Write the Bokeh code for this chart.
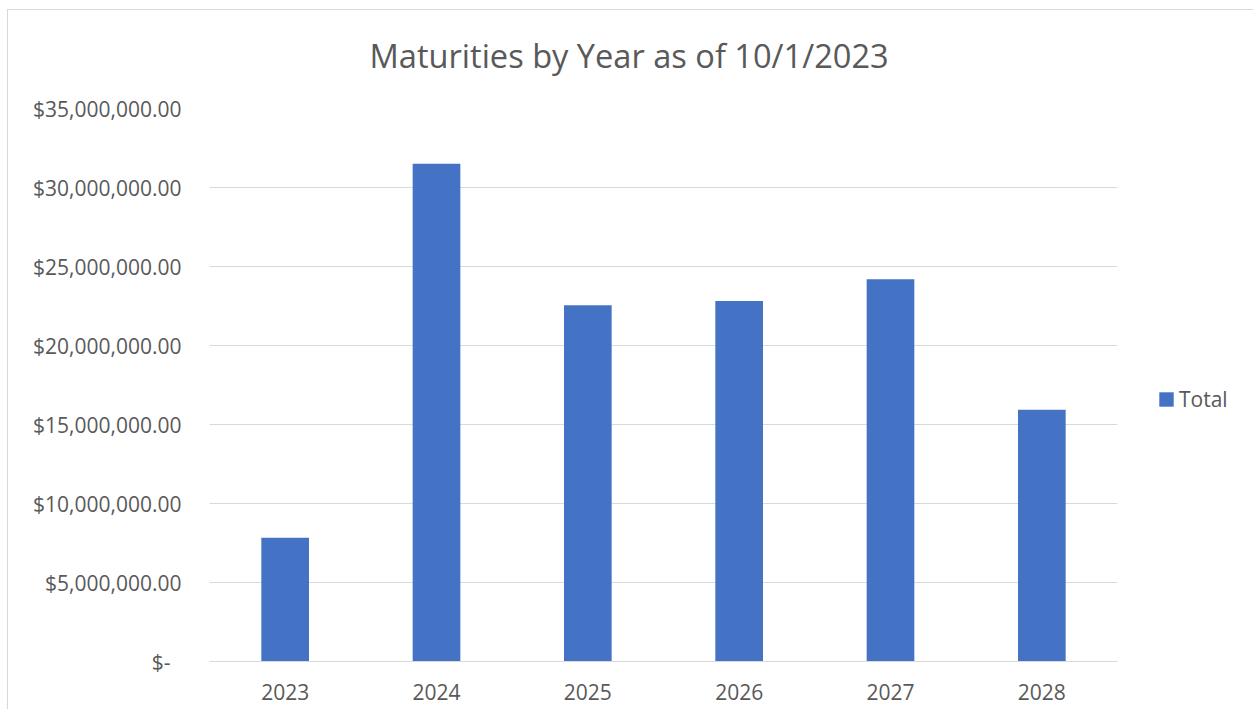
from bokeh.plotting import figure
from bokeh.models import ColumnDataSource, FixedTicker, Legend, LegendItem, Range1d
from bokeh.embed import file_html
from bokeh.resources import INLINE

# ---- data ----
years = ["2023", "2024", "2025", "2026", "2027", "2028"]
totals = [7840000, 31500000, 22540000, 22810000, 24200000, 15940000]
y_ticks = [0, 5000000, 10000000, 15000000, 20000000, 25000000, 30000000, 35000000]
y_tick_labels = ["$-\u00a0\u00a0", "$5,000,000.00", "$10,000,000.00", "$15,000,000.00",
                 "$20,000,000.00", "$25,000,000.00", "$30,000,000.00", "$35,000,000.00"]
title_text = "Maturities by Year as of 10/1/2023"
series_name = "Total"

FONT = "Open Sans"
TXT = "#595959"
GRID = "#d9d9d9"
BAR = "#4472C4"

src = ColumnDataSource(dict(years=years, totals=totals))

p = figure(x_range=years, y_range=Range1d(0, 35000000),
           frame_width=908, frame_height=553,
           output_backend="svg", toolbar_location=None,
           min_border_left=209, min_border_right=128, min_border_top=108, min_border_bottom=48)
p.styles = {
    "background": "linear-gradient(#d9d9d9,#d9d9d9) 7px 9px / 1px 100% no-repeat, "
                  "linear-gradient(#d9d9d9,#d9d9d9) 7px 9px / 100% 1px no-repeat, white"
}
p.outline_line_color = None
p.background_fill_color = "white"
p.border_fill_alpha = 0

r = p.vbar(x="years", top="totals", width=0.315, source=src,
           fill_color=BAR, line_color=None)

# title
p.title.text = title_text
p.title.align = "left"
p.title.offset = 160
p.title.standoff = 61
p.title.text_font = FONT
p.title.text_font_size = "32.6px"
p.title.text_font_style = "normal"
p.title.text_color = TXT

# axes
p.xaxis.axis_line_color = GRID
p.xaxis.axis_line_width = 1
p.xaxis.major_tick_line_color = None
p.xaxis.minor_tick_line_color = None
p.xaxis.major_label_standoff = 16
p.xaxis.major_label_text_font = FONT
p.xaxis.major_label_text_font_size = "21px"
p.xaxis.major_label_text_color = TXT

p.yaxis.ticker = FixedTicker(ticks=y_ticks)
p.yaxis.major_label_overrides = {t: l for t, l in zip(y_ticks, y_tick_labels)}
p.yaxis.axis_line_color = None
p.yaxis.major_tick_line_color = None
p.yaxis.minor_tick_line_color = None
p.yaxis.major_label_standoff = 22
p.yaxis.major_label_text_font = FONT
p.yaxis.major_label_text_font_size = "21px"
p.yaxis.major_label_text_color = TXT

p.xgrid.grid_line_color = None
p.ygrid.grid_line_color = GRID
p.ygrid.grid_line_width = 1
p.ygrid.ticker = FixedTicker(ticks=y_ticks)

# legend
legend = Legend(items=[LegendItem(label=series_name, renderers=[r])],
                location=(40, 248), orientation="vertical",
                glyph_width=18, glyph_height=18, label_standoff=4,
                label_text_font=FONT, label_text_font_size="21px", label_text_color=TXT,
                border_line_color=None, background_fill_alpha=0,
                padding=0, margin=0, spacing=0)
p.add_layout(legend, "right")

open("out.html", "w").write(file_html(p, INLINE))
